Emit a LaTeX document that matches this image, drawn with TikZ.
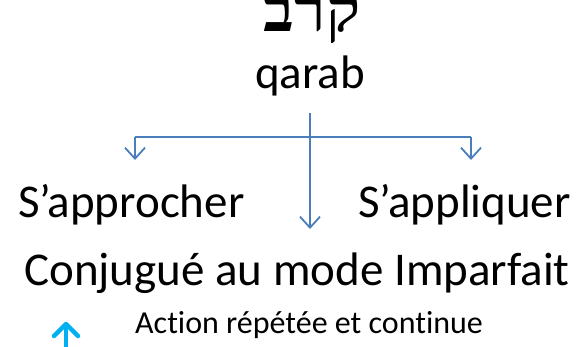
\documentclass[tikz,border=0pt]{standalone}
\usepackage{fontspec}
\setmainfont{Carlito}[Ligatures=NoCommon]
\newfontfamily\hebfont[Script=Hebrew]{Liberation Serif}
\TeXXeTstate=1
\usetikzlibrary{arrows.meta}
\definecolor{linkblue}{HTML}{4A7EBB}
\definecolor{cyanarrow}{HTML}{00B0F0}
\tikzset{
  bigtext/.style={inner sep=0pt, font=\fontsize{47}{50}\selectfont},
  smalltext/.style={inner sep=0pt, font=\fontsize{32}{36}\selectfont},
  hebtext/.style={inner sep=0pt, font=\hebfont\bfseries\fontsize{64}{68}\selectfont},
  link/.style={draw=linkblue, line width=1.8pt},
  linkarrow/.style={link, -{Straight Barb[length=11pt,width=20pt,line width=1.8pt]}},
}
\begin{document}
\begin{tikzpicture}[x=1pt,y=-1pt]
\useasboundingbox (0,0) rectangle (587,346);
\node[hebtext, anchor=base] (heb) at (312,31) {\beginR קרב\endR};
\node[bigtext, anchor=base] (qarab) at (310,88) {qarab};
\node[bigtext, anchor=base west] (appro) at (18,217) {S’approcher};
\node[bigtext, anchor=base east] (appli) at (571,217) {S’appliquer};
\node[bigtext, anchor=base] (conj) at (297,285) {Conjugué au mode Imparfait};
\node[smalltext, anchor=base west] (action) at (135,333) {Action répétée et continue};
\coordinate (stem) at (310,113);
\coordinate (left) at (135,137);
\coordinate (right) at (471,137);
\coordinate (tipl) at (135,160);
\coordinate (tipr) at (471,160);
\coordinate (tipc) at (310,229);
\draw[link] (left) -- (right);
\draw[linkarrow] (left) -- (tipl);
\draw[linkarrow] (right) -- (tipr);
\draw[linkarrow] (stem) -- (tipc);
\draw[cyanarrow, line width=4.5pt, line cap=round, line join=round] (54,336) -- (66,324) -- (78,336);
\draw[cyanarrow, line width=4.5pt] (66,325) -- (66,350);
\end{tikzpicture}
\end{document}
